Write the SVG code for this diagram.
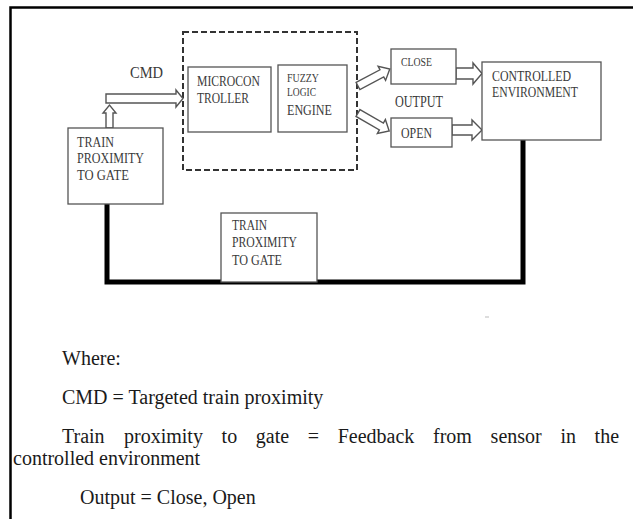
<svg xmlns="http://www.w3.org/2000/svg" width="633" height="519" viewBox="0 0 633 519">
<style>
.box{fill:#fff;stroke:#555;stroke-width:1.3}
.arr{fill:#fff;stroke:#555;stroke-width:1.4;stroke-linejoin:miter}
.lb{font-family:"Liberation Serif","Times New Roman",serif;fill:#3a3a3a}
.bt{font-family:"Liberation Serif","Times New Roman",serif;fill:#1a1a1a;font-size:20px}
</style>
<rect width="633" height="519" fill="#fff"/>
<g id="frame">
<path d="M10.5,519 V7.5 H633" fill="none" stroke="#000" stroke-width="2.5"/>
</g>
<g id="controller-group">
<rect x="183" y="32" width="174" height="138" fill="none" stroke="#333" stroke-width="2" stroke-dasharray="6 3"/>
</g>
<g id="connectors">
<path d="M523,140 V282 H107 V204" fill="none" stroke="#000" stroke-width="5" stroke-linejoin="miter"/>
<polygon class="arr" points="106,128 106,113 103,113 109.5,105 116,113 113,113 113,128"/>
<polygon class="arr" points="106,103 106,94 176,94 176,90 183,98.5 176,107 176,103"/>
<g transform="translate(358,86) rotate(-28)"><polygon class="arr" points="0,-4 27,-4 27,-8 36,0 27,8 27,4 0,4"/></g>
<g transform="translate(358,113) rotate(30)"><polygon class="arr" points="0,-4 27,-4 27,-8 36,0 27,8 27,4 0,4"/></g>
<polygon class="arr" points="456,68 473,68 473,63 482,73.5 473,84 473,79 456,79"/>
<polygon class="arr" points="452,125 472,125 472,120 482,130 472,140 472,135 452,135"/>
</g>
<g id="cmd-label"><text class="lb" x="130" y="78" font-size="16" textLength="33" lengthAdjust="spacingAndGlyphs">CMD</text></g>
<g id="train-proximity-input">
<rect class="box" x="68" y="128" width="95" height="76"/>
<text class="lb" x="77" y="147" font-size="15.5" textLength="37" lengthAdjust="spacingAndGlyphs">TRAIN</text>
<text class="lb" x="77" y="163" font-size="15.5" textLength="67" lengthAdjust="spacingAndGlyphs">PROXIMITY</text>
<text class="lb" x="77" y="180" font-size="15.5" textLength="52" lengthAdjust="spacingAndGlyphs">TO GATE</text>
</g>
<g id="microcontroller">
<rect class="box" x="188" y="67" width="83" height="65"/>
<text class="lb" x="197" y="86" font-size="15" textLength="63" lengthAdjust="spacingAndGlyphs">MICROCON</text>
<text class="lb" x="197" y="103" font-size="15" textLength="52" lengthAdjust="spacingAndGlyphs">TROLLER</text>
</g>
<g id="fuzzy-logic-engine">
<rect class="box" x="278" y="65" width="69" height="67"/>
<text class="lb" x="287" y="82" font-size="11.5" textLength="32" lengthAdjust="spacingAndGlyphs">FUZZY</text>
<text class="lb" x="287" y="96" font-size="11.5" textLength="29" lengthAdjust="spacingAndGlyphs">LOGIC</text>
<text class="lb" x="287" y="115" font-size="15" textLength="45" lengthAdjust="spacingAndGlyphs">ENGINE</text>
</g>
<g id="close">
<rect class="box" x="391" y="49" width="65" height="35"/>
<text class="lb" x="401" y="66" font-size="11.5" textLength="31" lengthAdjust="spacingAndGlyphs">CLOSE</text>
</g>
<g id="output-label"><text class="lb" x="395" y="107" font-size="16" textLength="48" lengthAdjust="spacingAndGlyphs">OUTPUT</text></g>
<g id="open">
<rect class="box" x="391" y="118" width="61" height="29"/>
<text class="lb" x="401" y="138" font-size="15" textLength="31" lengthAdjust="spacingAndGlyphs">OPEN</text>
</g>
<g id="controlled-environment">
<rect class="box" x="482" y="62" width="119" height="78"/>
<text class="lb" x="492" y="81" font-size="15.5" textLength="79" lengthAdjust="spacingAndGlyphs">CONTROLLED</text>
<text class="lb" x="492" y="97" font-size="15.5" textLength="86" lengthAdjust="spacingAndGlyphs">ENVIRONMENT</text>
</g>
<g id="train-proximity-feedback">
<rect class="box" x="221" y="213" width="96" height="69"/>
<text class="lb" x="232" y="230" font-size="15" textLength="35" lengthAdjust="spacingAndGlyphs">TRAIN</text>
<text class="lb" x="232" y="247" font-size="15" textLength="65" lengthAdjust="spacingAndGlyphs">PROXIMITY</text>
<text class="lb" x="232" y="265" font-size="15" textLength="50" lengthAdjust="spacingAndGlyphs">TO GATE</text>
</g>
<line x1="485" y1="317" x2="489" y2="317" stroke="#bbb" stroke-width="1"/>
<g id="legend">
<text class="bt" x="62" y="365">Where:</text>
<text class="bt" x="62" y="404">CMD = Targeted train proximity</text>
<text class="bt" y="443"><tspan x="62">Train</tspan><tspan x="124">proximity</tspan><tspan x="221.6">to</tspan><tspan x="255.8">gate</tspan><tspan x="307.8">=</tspan><tspan x="337.7">Feedback</tspan><tspan x="433">from</tspan><tspan x="490.6">sensor</tspan><tspan x="560.4">in</tspan><tspan x="594.6">the</tspan></text>
<text class="bt" x="13" y="465">controlled environment</text>
<text class="bt" x="80" y="504">Output = Close, Open</text>
</g>
</svg>
